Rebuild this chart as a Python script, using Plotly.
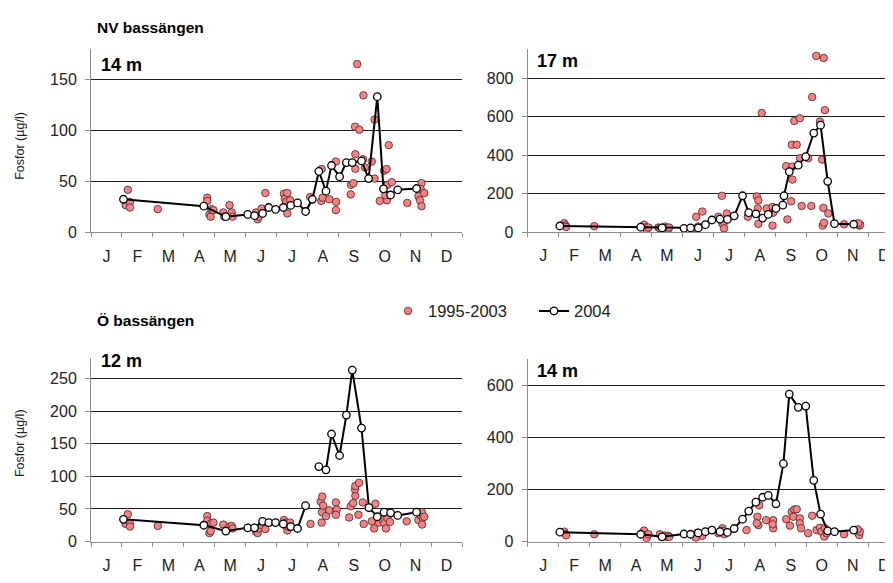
import plotly.graph_objects as go

MONTHS = ["J", "F", "M", "A", "M", "J", "J", "A", "S", "O", "N", "D"]

# x values are in months since 1 Jan, y in µg/l
# NV bassängen, 14 m
nv14_2004_m = [1.05, 3.65, 4.36, 5.07, 5.29, 5.55, 5.75, 5.97, 6.22, 6.46, 6.68, 6.94, 7.16,
               7.37, 7.60, 7.78, 8.04, 8.26, 8.45, 8.75, 8.98, 9.26, 9.46, 9.69, 9.92, 10.53]
nv14_2004_p = [32.6, 25.8, 15.5, 17.7, 16.5, 18.7, 24.5, 22.6, 24.5, 26.5, 29.0, 20.6, 32.6,
               60.0, 40.6, 65.8, 54.8, 68.7, 68.7, 70.3, 52.9, 133.5, 42.9, 36.8, 41.9, 43.2]
nv14_hist_m = [1.19, 1.12, 1.26, 1.26, 2.16, 3.76, 3.76, 3.83, 3.87, 3.89, 3.96, 4.28, 4.31,
               4.48, 4.55, 4.58, 5.34, 5.39, 5.43, 5.52, 5.64, 6.24, 6.27, 6.31, 6.35, 6.35,
               6.44, 7.09, 7.46, 7.45, 7.49, 7.71, 7.92, 7.93, 7.92, 8.40, 8.41, 8.49, 8.55,
               8.55, 8.61, 8.54, 8.68, 8.81, 8.80, 8.86, 9.08, 9.17, 9.17, 9.34, 9.48, 9.56,
               9.57, 9.59, 9.63, 9.73, 9.52, 10.23, 10.69, 10.66, 10.59, 10.64, 10.69, 10.78]
nv14_hist_p = [41.9, 26.8, 30.0, 24.5, 22.9, 34.2, 31.0, 17.7, 15.5, 22.9, 21.9, 19.7, 15.5,
               26.8, 19.7, 15.5, 19.7, 12.9, 15.5, 23.5, 38.7, 38.1, 33.2, 30.0, 18.7, 38.7,
               31.6, 34.8, 62.3, 31.0, 34.2, 32.6, 69.7, 30.0, 21.9, 37.4, 46.8, 48.4, 76.8,
               62.6, 165.5, 103.9, 101.0, 134.8, 71.9, 63.9, 69.7, 52.9, 111.0, 31.0, 60.6, 62.3,
               31.6, 46.8, 85.8, 49.4, 36.5, 29.0, 48.4, 42.9, 35.5, 31.6, 25.8, 38.7]

# NV bassängen, 17 m
nv17_2004_m = [1.04, 3.65, 4.34, 5.05, 5.26, 5.51, 5.74, 5.95, 6.21, 6.45, 6.67, 6.94, 7.14, 7.37,
               7.59, 7.77, 8.02, 8.24, 8.28, 8.45, 8.74, 8.98, 9.24, 9.46, 9.69, 9.91, 10.53]
nv17_2004_p = [32, 26, 22, 20, 22, 22, 39, 63, 68, 66, 85, 189, 101, 95,
               73, 92, 123, 140, 189, 314, 348, 392, 515, 556, 264, 44, 41]
nv17_hist_m = [1.18, 1.23, 1.24, 2.15, 3.76, 3.81, 3.84, 3.90, 4.22, 4.27, 4.43, 4.49, 4.54, 4.57,
               5.43, 5.44, 5.51, 5.64, 6.16, 6.27, 6.29, 6.32, 6.34, 6.43, 7.11, 7.40, 7.45, 7.43,
               7.45, 7.56, 7.72, 7.91, 7.91, 7.93, 8.39, 8.51, 8.35, 8.55, 8.55, 8.61, 8.79, 8.53,
               8.69, 8.80, 8.85, 9.06, 9.16, 9.19, 9.44, 9.51, 9.60, 9.53, 9.57, 9.55, 9.71, 9.32,
               9.56, 10.22, 10.62, 10.71, 10.74, 10.68]
nv17_hist_p = [46, 34, 27, 31, 39, 24, 14, 24, 24, 20, 29, 22, 17, 24,
               20, 80, 29, 107, 80, 189, 46, 38, 20, 97, 80, 186, 165, 123,
               43, 619, 123, 131, 34, 101, 66, 160, 343, 341, 273, 578, 592, 454,
               454, 384, 136, 384, 136, 702, 575, 377, 634, 34, 49, 126, 97, 916,
               905, 41, 43, 34, 38, 46]

# Ö bassängen, 12 m (no 2004 sample in mid July)
o12_2004_m = [1.05, 3.65, 4.36, 5.07, 5.29, 5.55, 5.75, 5.97, 6.22, 6.46, 6.68, 6.94, 7.16,
              7.37, 7.60, 7.78, 8.04, 8.26, 8.45, 8.75, 8.99, 9.26, 9.48, 9.69, 9.92, 10.53]
o12_2004_p = [34, 25, 16, 21, 21, 31, 29, 29, 27, 23, 20, 55, None,
              115, 110, 165, 132, 194, 263, 174, 52, 38, 45, 44, 40, 45]
o12_hist_m = [1.19, 1.12, 1.26, 1.26, 2.16, 3.76, 3.76, 3.83, 3.87, 3.89, 3.96, 4.28, 4.39,
              4.48, 4.55, 4.58, 5.34, 5.39, 5.43, 5.52, 5.64, 6.24, 6.27, 6.31, 6.35, 6.38,
              6.44, 7.10, 7.43, 7.48, 7.47, 7.51, 7.46, 7.60, 7.71, 7.92, 7.95, 7.92, 8.35,
              8.40, 8.48, 8.55, 8.54, 8.55, 8.67, 8.65, 8.79, 8.82, 9.08, 9.20, 9.16, 9.32,
              9.43, 9.49, 9.54, 9.59, 9.67, 10.21, 10.59, 10.66, 10.70, 10.73, 10.71, 10.78]
o12_hist_p = [42, 27, 28, 23, 24, 39, 32, 13, 16, 28, 29, 26, 18,
              23, 24, 20, 15, 13, 20, 25, 19, 33, 25, 29, 17, 23,
              29, 27, 61, 69, 45, 55, 29, 39, 48, 60, 49, 41, 37,
              54, 59, 70, 80, 85, 90, 41, 60, 27, 31, 58, 20, 29,
              33, 28, 20, 36, 30, 31, 33, 40, 45, 36, 26, 38]

# Ö bassängen, 14 m
o14_2004_m = [1.04, 3.65, 4.34, 5.05, 5.26, 5.51, 5.74, 5.95, 6.21, 6.45, 6.67, 6.94, 7.14,
              7.37, 7.59, 7.77, 8.02, 8.26, 8.45, 8.74, 8.98, 9.24, 9.46, 9.69, 9.91, 10.53]
o14_2004_p = [37, 29, 19, 30, 29, 34, 39, 45, 39, 36, 51, 87, 118,
              152, 171, 178, 146, 300, 567, 516, 521, 236, 106, 42, 39, 45]
o14_hist_m = [1.18, 1.23, 1.24, 2.15, 3.76, 3.81, 3.84, 3.90, 4.27, 4.43, 4.49, 4.54, 4.57,
              5.43, 5.43, 5.48, 5.64, 6.16, 6.29, 6.35, 6.32, 7.07, 7.42, 7.45, 7.48, 7.40,
              7.70, 7.93, 7.93, 7.91, 8.35, 8.47, 8.53, 8.61, 8.69, 8.58, 8.79, 8.79, 8.83,
              9.06, 9.19, 9.33, 9.44, 9.49, 9.58, 9.60, 9.66, 10.22, 10.62, 10.68, 10.71, 10.73, 10.66]
o14_hist_p = [39, 29, 25, 29, 43, 26, 14, 29, 29, 24, 19, 23, 19,
              26, 16, 35, 23, 33, 52, 29, 42, 45, 96, 64, 140, 71,
              83, 83, 52, 67, 87, 62, 115, 124, 125, 96, 90, 71, 52,
              33, 100, 45, 54, 39, 20, 52, 33, 29, 43, 33, 26, 39, 48]

FONT = "Arial, Liberation Sans, sans-serif"
# the page body has an 8px margin, so the figure is drawn from (8, 8)
OFF = 8
W, H = 893 - OFF, 583 - OFF


def px(x):
    return (x - OFF) / W


def py(y):
    return (H - (y - OFF)) / H


panels = [
    # label, hist x/y, 2004 x/y, y max, y ticks, x domain px, y domain px (top, bottom), x max, label pos
    ("14 m", nv14_hist_m, nv14_hist_p, nv14_2004_m, nv14_2004_p, 180, [0, 50, 100, 150],
     (91, 462), (50, 236), 12, (99, 65.5)),
    ("17 m", nv17_hist_m, nv17_hist_p, nv17_2004_m, nv17_2004_p, 950, [0, 200, 400, 600, 800],
     (527.7, 893), (50, 235.7), 11.8, (535, 62)),
    ("12 m", o12_hist_m, o12_hist_p, o12_2004_m, o12_2004_p, 282, [0, 50, 100, 150, 200, 250],
     (91, 462), (363.3, 550), 12, (99, 367)),
    ("14 m", o14_hist_m, o14_hist_p, o14_2004_m, o14_2004_p, 700, [0, 200, 400, 600],
     (527.7, 893), (365, 550.3), 11.8, (535, 376.5)),
]

fig = go.Figure()
annotations = []
layout = {}

for i, (label, hx, hy, x04, y04, ymax, yticks, xd, yd, xmax, lab) in enumerate(panels):
    n = "" if i == 0 else str(i + 1)
    xa, ya = "x" + n, "y" + n

    fig.add_trace(go.Scatter(
        x=hx, y=hy, mode="markers", name="1995-2003", xaxis=xa, yaxis=ya,
        showlegend=(i == 0), legendrank=1,
        marker=dict(size=7.5, color="#FF8080", line=dict(color="#3a2a2a", width=0.8)),
    ))
    fig.add_trace(go.Scatter(
        x=x04, y=y04, mode="lines+markers", name="2004", xaxis=xa, yaxis=ya,
        showlegend=(i == 0), legendrank=2, connectgaps=False,
        line=dict(color="black", width=2),
        marker=dict(size=7.5, color="white", line=dict(color="black", width=1.3)),
    ))

    layout["xaxis" + n] = dict(
        domain=[px(xd[0]), min(px(xd[1]), 1)], anchor=ya, range=[0, xmax],
        tickmode="array", tickvals=[k + 0.5 for k in range(12)], ticktext=MONTHS,
        ticks="", showgrid=False, zeroline=False, showline=True,
        linecolor="#8c8c8c", linewidth=1, ticklabelstandoff=9, ticklabeloverflow="allow",
        tickfont=dict(size=16, color="#222", family=FONT),
        minor=dict(tickmode="array", tickvals=list(range(13)), ticks="outside",
                   ticklen=4, tickcolor="#8c8c8c", showgrid=False),
    )
    layout["yaxis" + n] = dict(
        domain=[py(yd[1]), py(yd[0])], anchor=xa, range=[0, ymax],
        tickmode="array", tickvals=yticks, ticks="outside", ticklen=5,
        tickcolor="#8c8c8c", showline=True, linecolor="#8c8c8c", linewidth=1,
        showgrid=True, gridcolor="#1e1e1e", gridwidth=1, zeroline=False,
        ticklabelstandoff=5, tickfont=dict(size=16, color="#222", family=FONT),
    )
    annotations.append(dict(
        text="<b>%s</b>" % label, x=px(lab[0]), y=py(lab[1]), xref="paper", yref="paper",
        xanchor="left", yanchor="middle", showarrow=False,
        font=dict(size=18, color="black", family=FONT),
    ))

for txt, ypx in [("NV bassängen", 28), ("Ö bassängen", 325)]:
    annotations.append(dict(
        text="<b>%s</b>" % txt, x=px(95), y=py(ypx), xref="paper", yref="paper",
        xanchor="left", yanchor="middle", showarrow=False,
        font=dict(size=15.5, color="black", family=FONT),
    ))

for ypx in [148, 450]:
    annotations.append(dict(
        text="Fosfor (µg/l)", x=px(20), y=py(ypx), xref="paper", yref="paper",
        xanchor="center", yanchor="middle", textangle=-90, showarrow=False,
        font=dict(size=12.5, color="#222", family=FONT),
    ))

fig.update_layout(
    width=W, height=H, margin=dict(l=0, r=0, t=0, b=0),
    paper_bgcolor="white", plot_bgcolor="white",
    font=dict(family=FONT, color="#222"),
    showlegend=True,
    legend=dict(orientation="h", x=px(388), y=py(316), xanchor="left", yanchor="middle",
                font=dict(size=16.5, family=FONT, color="#222"), bgcolor="rgba(0,0,0,0)",
                entrywidth=101, entrywidthmode="pixels", traceorder="normal"),
    annotations=annotations,
    **layout,
)

fig.write_html("out.html")
